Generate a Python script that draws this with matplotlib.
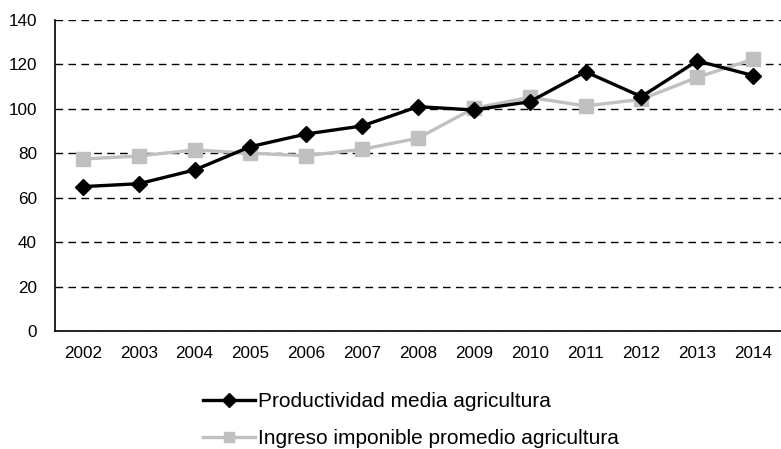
import matplotlib
matplotlib.use("Agg")
import matplotlib.pyplot as plt
from matplotlib.lines import Line2D

plt.rcParams['font.family'] = ['Liberation Sans', 'DejaVu Sans']

years = ['2002', '2003', '2004', '2005', '2006', '2007', '2008',
         '2009', '2010', '2011', '2012', '2013', '2014']
productividad = [65.0, 66.3, 72.5, 83.0, 88.7, 92.3, 101.0,
                 99.5, 103.2, 116.7, 105.5, 121.6, 115.0]
ingreso = [77.4, 78.8, 81.5, 80.0, 78.9, 81.8, 86.8,
           100.3, 105.2, 101.3, 104.3, 114.2, 122.3]
yticks = [0, 20, 40, 60, 80, 100, 120, 140]
labels = ['Productividad media agricultura',
          'Ingreso imponible promedio agricultura']

W, H = 781, 449
fig = plt.figure(figsize=(W / 100, H / 100), dpi=100)
ax = fig.add_axes([55 / W, (H - 331) / H, (W - 55) / W, 311 / H])

x = list(range(len(years)))
ax.plot(x, productividad, color='black', lw=2.4, marker='D', ms=8, zorder=4)
ax.plot(x, ingreso, color='#c0c0c0', lw=2.4, marker='s', ms=10.5, zorder=3)

ax.set_xlim(-0.5, len(years) - 0.5)
ax.set_ylim(0, 140)
ax.set_yticks(yticks)
ax.set_xticks(x)
ax.set_xticklabels(years)
ax.tick_params(length=0, labelsize=12.3)
ax.tick_params(axis='y', pad=13)
ax.tick_params(axis='x', pad=11)

ax.yaxis.grid(True, color='black', lw=1.0, linestyle=(0, (5.5, 3.8)))
ax.set_axisbelow(True)
for s in ['top', 'right']:
    ax.spines[s].set_visible(False)
for s in ['left', 'bottom']:
    ax.spines[s].set_linewidth(1.2)

# legend keys use smaller markers than the plotted series
handles = [Line2D([], [], color='black', lw=2.4, marker='D', ms=6.8),
           Line2D([], [], color='#c0c0c0', lw=2.4, marker='s', ms=7)]
fig.legend(handles, labels, loc='center left',
           bbox_to_anchor=(203 / W, (H - 420) / H),
           frameon=False, fontsize=15, handlelength=2.5,
           handletextpad=0.15, labelspacing=0.85, borderpad=0,
           borderaxespad=0)

fig.savefig('out.png', dpi=100)
plt.close(fig)
